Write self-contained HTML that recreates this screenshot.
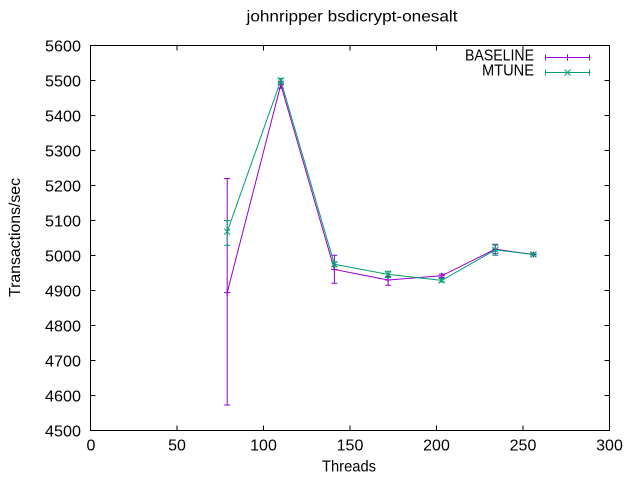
<!DOCTYPE html>
<html>
<head>
<meta charset="utf-8">
<style>
html,body{margin:0;padding:0;background:#fff;}
svg{display:block;}
text{font-family:"Liberation Sans","DejaVu Sans",sans-serif;fill:#000;}
</style>
</head>
<body>
<svg width="640" height="480" viewBox="0 0 640 480" xmlns="http://www.w3.org/2000/svg">
<rect width="640" height="480" fill="#fff"/>

<!-- title -->
<text x="352" y="21.5" font-size="16" text-anchor="middle" textLength="211" lengthAdjust="spacingAndGlyphs">johnripper bsdicrypt-onesalt</text>

<!-- y label -->
<text transform="translate(20,237.5) rotate(-90)" font-size="16" text-anchor="middle" textLength="119" lengthAdjust="spacingAndGlyphs">Transactions/sec</text>

<!-- x label -->
<text x="349" y="471.5" font-size="16" text-anchor="middle" textLength="54" lengthAdjust="spacingAndGlyphs">Threads</text>

<!-- ticks -->
<g stroke="#000" stroke-width="1" fill="none">
  <!-- y ticks left and right -->
  <path d="M90.5 430.5h5 M90.5 395.5h5 M90.5 360.5h5 M90.5 325.5h5 M90.5 290.5h5 M90.5 255.5h5 M90.5 220.5h5 M90.5 185.5h5 M90.5 150.5h5 M90.5 115.5h5 M90.5 80.5h5 M90.5 45.5h5"/>
  <path d="M609.5 430.5h-5 M609.5 395.5h-5 M609.5 360.5h-5 M609.5 325.5h-5 M609.5 290.5h-5 M609.5 255.5h-5 M609.5 220.5h-5 M609.5 185.5h-5 M609.5 150.5h-5 M609.5 115.5h-5 M609.5 80.5h-5 M609.5 45.5h-5"/>
  <!-- x ticks bottom and top -->
  <path d="M90.5 430.5v-5 M177 430.5v-5 M263.5 430.5v-5 M350 430.5v-5 M436.5 430.5v-5 M523 430.5v-5 M609.5 430.5v-5"/>
  <path d="M90.5 45.5v5 M177 45.5v5 M263.5 45.5v5 M350 45.5v5 M436.5 45.5v5 M523 45.5v5 M609.5 45.5v5"/>
  <!-- border -->
  <rect x="90.5" y="45.5" width="519" height="385"/>
</g>

<!-- y tick labels -->
<g font-size="16" text-anchor="end">
  <text x="81" y="436.5" textLength="36" lengthAdjust="spacingAndGlyphs">4500</text>
  <text x="81" y="401.5" textLength="36" lengthAdjust="spacingAndGlyphs">4600</text>
  <text x="81" y="366.5" textLength="36" lengthAdjust="spacingAndGlyphs">4700</text>
  <text x="81" y="331.5" textLength="36" lengthAdjust="spacingAndGlyphs">4800</text>
  <text x="81" y="296.5" textLength="36" lengthAdjust="spacingAndGlyphs">4900</text>
  <text x="81" y="261.5" textLength="36" lengthAdjust="spacingAndGlyphs">5000</text>
  <text x="81" y="226.5" textLength="36" lengthAdjust="spacingAndGlyphs">5100</text>
  <text x="81" y="191.5" textLength="36" lengthAdjust="spacingAndGlyphs">5200</text>
  <text x="81" y="156.5" textLength="36" lengthAdjust="spacingAndGlyphs">5300</text>
  <text x="81" y="121.5" textLength="36" lengthAdjust="spacingAndGlyphs">5400</text>
  <text x="81" y="86.5" textLength="36" lengthAdjust="spacingAndGlyphs">5500</text>
  <text x="81" y="51.5" textLength="36" lengthAdjust="spacingAndGlyphs">5600</text>
</g>

<!-- x tick labels -->
<g font-size="16" text-anchor="middle">
  <text x="91" y="450.5">0</text>
  <text x="177" y="450.5">50</text>
  <text x="263.5" y="450.5">100</text>
  <text x="350" y="450.5">150</text>
  <text x="436.5" y="450.5">200</text>
  <text x="523" y="450.5">250</text>
  <text x="609.5" y="450.5">300</text>
</g>

<!-- BASELINE series -->
<g stroke="#9400d3" stroke-width="1" fill="none">
  <polyline points="227.2,292.6 280.8,84.7 334.4,269.5 388.1,280 441.7,275.8 495.3,249.2 533.4,254.5"/>
  <!-- error bars -->
  <path d="M227.2 178.5V405 M224.2 178.5h6 M224.2 405h6"/>
  <path d="M280.8 81.2V88.2 M277.8 81.2h6 M277.8 88.2h6"/>
  <path d="M334.4 255.2V283.2 M331.4 255.2h6 M331.4 283.2h6"/>
  <path d="M388.1 276.5V285.3 M385.1 276.5h6 M385.1 285.3h6"/>
  <path d="M441.7 274V277.5 M438.7 274h6 M438.7 277.5h6"/>
  <path d="M495.3 245V253.8 M492.3 245h6 M492.3 253.8h6"/>
  <path d="M533.4 253V256 M530.4 253h6 M530.4 256h6"/>
  <!-- + markers -->
  <path d="M224 292.6h6.4 M227.2 289.4v6.4"/>
  <path d="M277.6 84.7h6.4 M280.8 81.5v6.4"/>
  <path d="M331.2 269.5h6.4 M334.4 266.3v6.4"/>
  <path d="M384.9 280h6.4 M388.1 276.8v6.4"/>
  <path d="M438.5 275.8h6.4 M441.7 272.6v6.4"/>
  <path d="M492.1 249.2h6.4 M495.3 246v6.4"/>
  <path d="M530.2 254.5h6.4 M533.4 251.3v6.4"/>
</g>

<!-- MTUNE series -->
<g stroke="#009e73" stroke-width="1" fill="none">
  <polyline points="227.2,231.7 280.8,80.5 334.4,264.3 388.1,274.4 441.7,280.4 495.3,249.9 533.4,254.5"/>
  <path d="M227.2 220.5V245.4 M224.2 220.5h6 M224.2 245.4h6"/>
  <path d="M280.8 78.4V83.3 M277.8 78.4h6 M277.8 83.3h6"/>
  <path d="M334.4 261.8V266.7 M331.4 261.8h6 M331.4 266.7h6"/>
  <path d="M388.1 271.3V277.6 M385.1 271.3h6 M385.1 277.6h6"/>
  <path d="M441.7 278.6V282.1 M438.7 278.6h6 M438.7 282.1h6"/>
  <path d="M495.3 244.3V255.2 M492.3 244.3h6 M492.3 255.2h6"/>
  <path d="M533.4 253.1V255.9 M530.4 253.1h6 M530.4 255.9h6"/>
  <!-- x markers -->
  <path d="M224.2 228.7l6 6 M224.2 234.7l6 -6"/>
  <path d="M277.8 77.5l6 6 M277.8 83.5l6 -6"/>
  <path d="M331.4 261.3l6 6 M331.4 267.3l6 -6"/>
  <path d="M385.1 271.4l6 6 M385.1 277.4l6 -6"/>
  <path d="M438.7 277.4l6 6 M438.7 283.4l6 -6"/>
  <path d="M492.3 246.9l6 6 M492.3 252.9l6 -6"/>
  <path d="M530.4 251.5l6 6 M530.4 257.5l6 -6"/>
</g>

<!-- legend -->
<text x="534" y="60.5" font-size="16" text-anchor="end" textLength="69" lengthAdjust="spacingAndGlyphs">BASELINE</text>
<text x="534" y="75.5" font-size="16" text-anchor="end" textLength="52" lengthAdjust="spacingAndGlyphs">MTUNE</text>
<g stroke="#9400d3" stroke-width="1" fill="none">
  <path d="M545.5 57.5H589.5 M545.5 54.5v6 M589.5 54.5v6 M567.5 54.3v6.4"/>
</g>
<g stroke="#009e73" stroke-width="1" fill="none">
  <path d="M545.5 72.5H589.5 M545.5 69.5v6 M589.5 69.5v6 M564.5 69.5l6 6 M564.5 75.5l6 -6"/>
</g>
</svg>
</body>
</html>
